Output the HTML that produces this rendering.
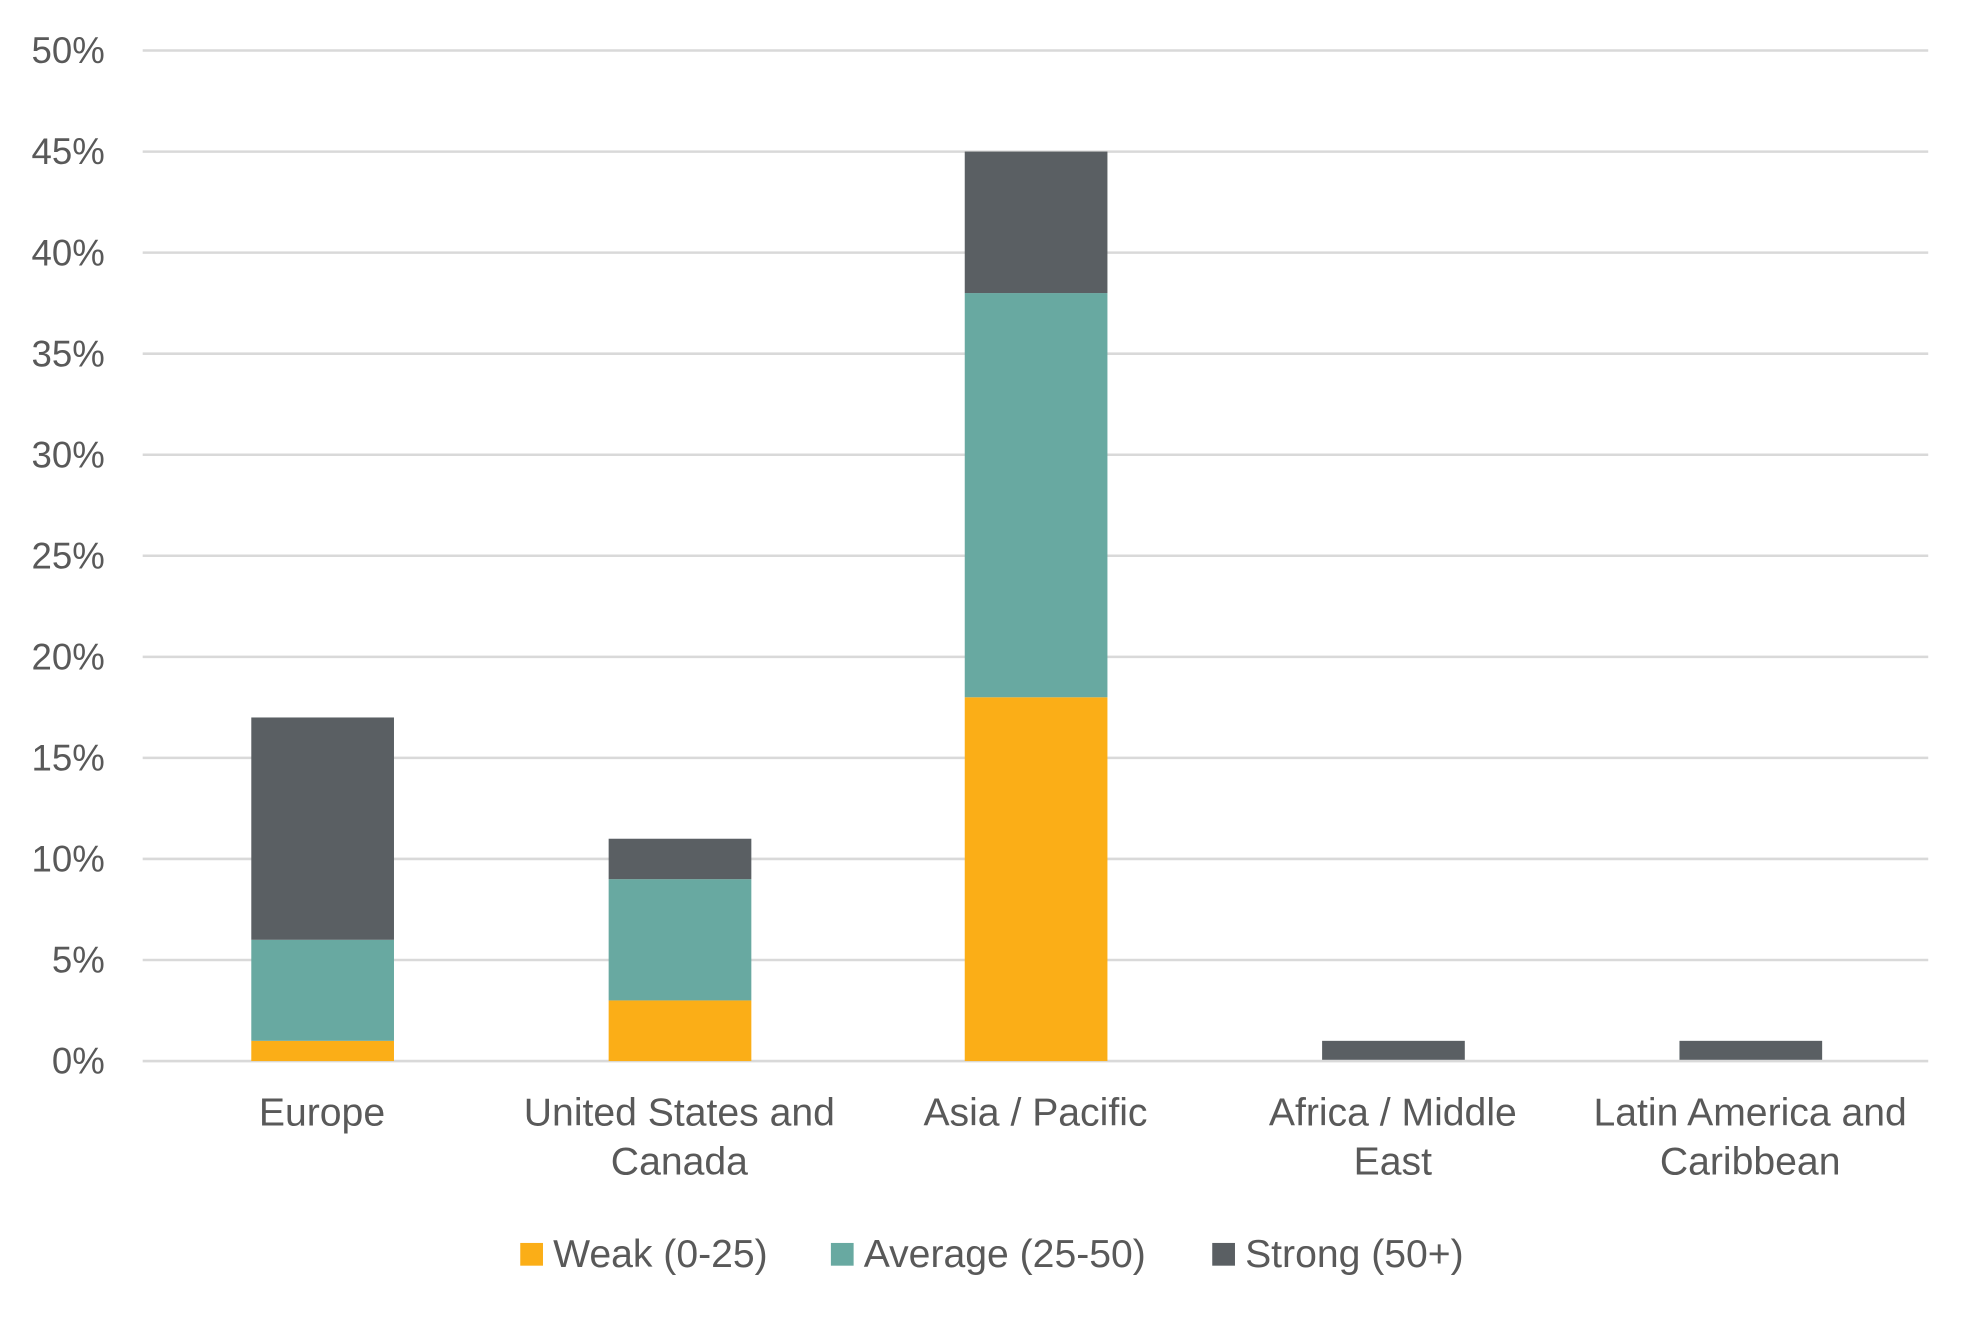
<!DOCTYPE html>
<html><head><meta charset="utf-8"><style>html,body{margin:0;padding:0;background:#fff;overflow:hidden}svg{display:block}</style></head><body>
<svg width="1980" height="1320" viewBox="0 0 1568 1045" preserveAspectRatio="none" xmlns="http://www.w3.org/2000/svg" font-family="Liberation Sans, sans-serif" fill="#595959">
<g stroke="#d9d9d9" stroke-width="2">
<line x1="113" x2="1527" y1="40" y2="40"/><line x1="113" x2="1527" y1="120" y2="120"/><line x1="113" x2="1527" y1="200" y2="200"/><line x1="113" x2="1527" y1="280" y2="280"/><line x1="113" x2="1527" y1="360" y2="360"/><line x1="113" x2="1527" y1="440" y2="440"/><line x1="113" x2="1527" y1="520" y2="520"/><line x1="113" x2="1527" y1="600" y2="600"/><line x1="113" x2="1527" y1="680" y2="680"/><line x1="113" x2="1527" y1="760" y2="760"/><line x1="113" x2="1527" y1="840" y2="840"/>
</g>
<g font-size="29" text-anchor="end">
<text x="83" y="50">50%</text><text x="83" y="130">45%</text><text x="83" y="210">40%</text><text x="83" y="290">35%</text><text x="83" y="370">30%</text><text x="83" y="450">25%</text><text x="83" y="530">20%</text><text x="83" y="610">15%</text><text x="83" y="690">10%</text><text x="83" y="770">5%</text><text x="83" y="850">0%</text>
</g>
<rect x="199" y="824" width="113" height="16" fill="#fbae17"/>
<rect x="199" y="744" width="113" height="80" fill="#68a9a1"/>
<rect x="199" y="568" width="113" height="176" fill="#5a5f63"/>
<rect x="482" y="792" width="113" height="48" fill="#fbae17"/>
<rect x="482" y="696" width="113" height="96" fill="#68a9a1"/>
<rect x="482" y="664" width="113" height="32" fill="#5a5f63"/>
<rect x="764" y="552" width="113" height="288" fill="#fbae17"/>
<rect x="764" y="232" width="113" height="320" fill="#68a9a1"/>
<rect x="764" y="120" width="113" height="112" fill="#5a5f63"/>
<rect x="1047" y="824" width="113" height="15" fill="#5a5f63"/>
<rect x="1330" y="824" width="113" height="15" fill="#5a5f63"/>
<g font-size="31" text-anchor="middle">
<text x="255" y="891">Europe</text>
<text x="538" y="891">United States and</text><text x="538" y="930">Canada</text>
<text x="820" y="891">Asia / Pacific</text>
<text x="1103" y="891">Africa / Middle</text><text x="1103" y="930">East</text>
<text x="1386" y="891">Latin America and</text><text x="1386" y="930">Caribbean</text>
</g>
<g font-size="31">
<rect x="412" y="984" width="18" height="18" fill="#fbae17"/><text x="438" y="1003">Weak (0-25)</text>
<rect x="658" y="984" width="18" height="18" fill="#68a9a1"/><text x="684" y="1003">Average (25-50)</text>
<rect x="960" y="984" width="18" height="18" fill="#5a5f63"/><text x="986" y="1003">Strong (50+)</text>
</g>
</svg>
</body></html>
